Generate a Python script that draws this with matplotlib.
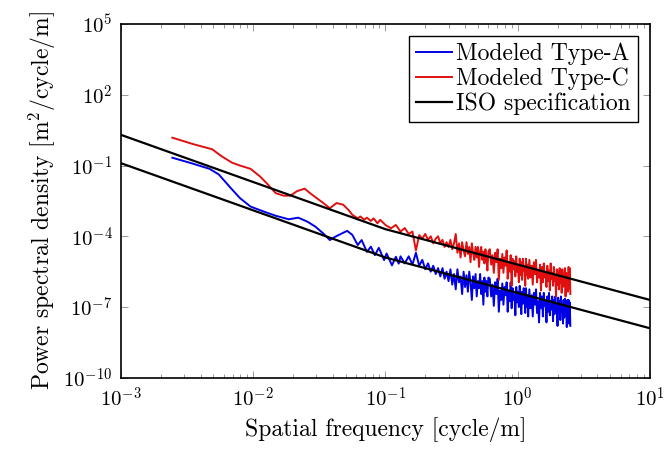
import numpy as np
import matplotlib
matplotlib.use('Agg')
import matplotlib.pyplot as plt
from matplotlib.ticker import FuncFormatter, LogLocator, NullLocator

plt.rcParams['mathtext.fontset'] = 'cm'
plt.rcParams['font.family'] = 'cmr10'
plt.rcParams['axes.unicode_minus'] = False

# ISO specification lines (break at 0.1 cycle/m)
iso_freq = [1e-3, 0.1, 10.0]
iso_a = [1.26e-1, 1.26e-5, 1.26e-8]
iso_c = [2.0, 2.0e-4, 2.0e-7]

# low-frequency part of the modeled spectra (cycle/m), PSD given as log10 values
freq_lo_a = [0.00245, 0.00331, 0.00468, 0.00550, 0.00676, 0.00794, 0.00955, 0.0120,
             0.0148, 0.0186, 0.0219, 0.0257, 0.0295, 0.0339, 0.0380, 0.0417, 0.0468,
             0.0513, 0.0562, 0.0617, 0.0661, 0.0724, 0.0776, 0.0832, 0.0891, 0.0977,
             0.102, 0.112, 0.120, 0.126]
psd_lo_a = [-0.67, -0.88, -1.14, -1.38, -1.95, -2.38, -2.74, -2.95, -3.13, -3.28,
            -3.21, -3.38, -3.59, -3.88, -4.16, -4.02, -3.88, -3.77, -3.94, -4.37,
            -4.16, -4.66, -4.44, -4.80, -4.49, -5.01, -4.73, -5.23, -4.87, -5.16]

freq_lo_c = [0.00245, 0.00355, 0.00490, 0.00575, 0.00692, 0.00794, 0.00955, 0.0112,
             0.0126, 0.0148, 0.0170, 0.0191, 0.0214, 0.0245, 0.0269, 0.0302, 0.0339,
             0.0380, 0.0427, 0.0479, 0.0525, 0.0562, 0.0617, 0.0646, 0.0692, 0.0724,
             0.0776, 0.0813, 0.0871, 0.0912, 0.100, 0.110, 0.120]
psd_lo_c = [0.18, -0.10, -0.31, -0.60, -0.88, -1.00, -1.14, -1.45, -1.74, -2.17,
            -2.28, -2.28, -2.09, -1.98, -2.17, -2.38, -2.59, -2.81, -2.59, -2.66,
            -2.88, -3.09, -3.24, -3.16, -3.30, -3.21, -3.35, -3.24, -3.45, -3.30,
            -3.52, -3.66, -3.52]

# noisy high-frequency part, same frequency grid for both roads
freq_hi = [0.13, 0.14, 0.15, 0.16, 0.17, 0.18, 0.19, 0.20, 0.21, 0.22, 0.23, 0.24,
           0.25, 0.26, 0.27, 0.28, 0.29, 0.30,
           0.31, 0.32, 0.33, 0.34, 0.35, 0.36, 0.37, 0.38, 0.39, 0.40, 0.41, 0.42,
           0.43, 0.44, 0.45, 0.46, 0.47, 0.48, 0.49, 0.50, 0.51, 0.52, 0.53, 0.54,
           0.55, 0.56, 0.57, 0.58, 0.59, 0.60,
           0.615, 0.63, 0.645, 0.66, 0.675, 0.69, 0.705, 0.72, 0.735, 0.75, 0.765,
           0.78, 0.795, 0.81, 0.825, 0.84, 0.855, 0.87, 0.885, 0.90, 0.915, 0.93,
           0.945, 0.96, 0.975, 0.99, 1.005, 1.02, 1.035, 1.05, 1.065, 1.08, 1.095,
           1.11, 1.125, 1.14, 1.155, 1.17, 1.185, 1.20,
           1.225, 1.25, 1.275, 1.30, 1.325, 1.35, 1.375, 1.40, 1.425, 1.45, 1.475,
           1.50, 1.525, 1.55, 1.575, 1.60, 1.625, 1.65, 1.675, 1.70, 1.725, 1.75,
           1.775, 1.80, 1.825, 1.85, 1.875, 1.90, 1.925, 1.95, 1.975, 2.00, 2.025,
           2.05, 2.075, 2.10, 2.125, 2.15, 2.175, 2.20, 2.225, 2.25, 2.275, 2.30,
           2.325, 2.35, 2.375, 2.40, 2.425, 2.45, 2.475, 2.50]
psd_hi_a = [-4.85, -5.15, -4.85, -5.20, -4.70, -5.25, -5.00, -5.40, -5.15, -5.50,
            -5.25, -5.60, -5.35, -5.70, -5.35, -5.80, -5.50, -5.90,
            -5.40, -6.05, -5.60, -6.25, -5.40, -5.95, -5.70, -6.45, -5.50, -6.15,
            -5.65, -6.35, -5.50, -5.95, -6.70, -5.70, -6.20, -5.60, -6.55, -5.90,
            -6.20, -5.60, -6.45, -5.90, -6.90, -5.75, -6.35, -5.90, -6.55, -5.75,
            -5.80, -6.55, -6.05, -6.95, -5.95, -6.45, -5.80, -7.20, -6.30, -6.70,
            -6.00, -6.90, -6.15, -6.50, -5.95, -7.20, -6.35, -6.75, -5.95, -7.05,
            -6.20, -6.70, -6.45, -7.35, -6.15, -6.80, -6.35, -7.00, -6.10, -6.65,
            -7.30, -6.35, -6.85, -6.20, -6.65, -7.25, -6.20, -7.00, -6.50, -7.40,
            -6.25, -7.05, -6.50, -7.40, -6.40, -6.90, -6.25, -7.25, -6.75, -7.65,
            -6.40, -7.05, -6.55, -7.40, -6.40, -6.95, -6.75, -7.65, -6.55, -7.20,
            -6.40, -7.35, -6.75, -7.10, -6.55, -7.60, -6.70, -7.30, -6.55, -7.05,
            -6.90, -7.80, -6.60, -7.25, -6.75, -7.55, -6.55, -7.20, -7.00, -7.70,
            -6.70, -7.45, -6.65, -7.30, -6.95, -7.85, -6.70, -7.40, -6.70, -7.70,
            -6.80, -7.80]
psd_hi_c = [-3.80, -3.65, -3.90, -3.80, -4.60, -3.95, -4.10, -3.90, -4.15, -4.00,
            -4.30, -4.10, -4.00, -4.30, -4.15, -4.45, -4.25, -4.45,
            -4.15, -4.55, -4.30, -3.90, -4.70, -4.30, -4.90, -4.25, -4.60, -4.85,
            -4.25, -4.75, -4.45, -5.10, -4.30, -4.70, -5.00, -4.45, -4.90, -4.45,
            -5.30, -4.65, -4.45, -5.00, -4.65, -5.15, -4.55, -4.90, -5.45, -4.65,
            -4.55, -5.20, -4.80, -5.55, -4.70, -5.10, -4.55, -5.85, -4.95, -5.35,
            -4.75, -5.55, -4.90, -5.25, -4.60, -5.80, -5.10, -5.50, -4.80, -6.10,
            -4.95, -5.40, -5.05, -5.70, -4.85, -5.50, -5.25, -5.95, -4.95, -5.65,
            -5.10, -5.85, -4.95, -5.45, -5.25, -6.10, -4.95, -5.65, -5.20, -5.80,
            -5.00, -5.75, -5.25, -6.05, -5.10, -5.60, -5.00, -5.95, -5.45, -5.75,
            -5.20, -6.30, -5.30, -5.95, -5.15, -5.75, -5.55, -6.15, -5.25, -5.90,
            -5.45, -6.30, -5.15, -5.80, -5.55, -6.10, -5.30, -5.90, -5.75, -6.55,
            -5.40, -6.05, -5.50, -6.25, -5.35, -5.95, -5.70, -6.40, -5.40, -6.15,
            -5.60, -6.10, -5.35, -6.55, -5.55, -6.05, -5.70, -6.35, -5.30, -6.20,
            -5.35, -6.45]

freq_a = freq_lo_a + freq_hi
psd_a = 10.0 ** np.array(psd_lo_a + psd_hi_a)
freq_c = freq_lo_c + freq_hi
psd_c = 10.0 ** np.array(psd_lo_c + psd_hi_c)

fig = plt.figure(figsize=(6.68, 4.53), dpi=100)
ax = fig.add_axes([0.181, 0.166, 0.792, 0.781])

ax.plot(freq_a, psd_a, color='#0000e6', lw=1.4, label='Modeled Type-A')
ax.plot(freq_c, psd_c, color='#e01010', lw=1.4, label='Modeled Type-C')
ax.plot(iso_freq, iso_a, color='black', lw=1.6, label='ISO specification')
ax.plot(iso_freq, iso_c, color='black', lw=1.6)

ax.set_xscale('log')
ax.set_yscale('log')
ax.set_xlim(1e-3, 10)
ax.set_ylim(1e-10, 1e5)

ax.set_yticks([1e-10, 1e-7, 1e-4, 1e-1, 1e2, 1e5])
ax.yaxis.set_minor_locator(NullLocator())
ax.xaxis.set_major_locator(LogLocator(base=10, numticks=10))
ax.xaxis.set_minor_locator(LogLocator(base=10, subs=np.arange(2, 10), numticks=20))
fmt = FuncFormatter(lambda v, pos: r'$10^{%d}$' % int(round(np.log10(v))))
ax.xaxis.set_major_formatter(fmt)
ax.yaxis.set_major_formatter(fmt)
ax.tick_params(which='both', direction='in', top=True, right=True, labelsize=15)
ax.tick_params(which='major', length=5, width=0.6, color='#888888')
ax.tick_params(which='minor', length=3, width=0.6, color='#888888')
ax.tick_params(axis='x', pad=6)
ax.tick_params(axis='y', pad=6)
for s in ax.spines.values():
    s.set_linewidth(1.2)

ax.set_xlabel('Spatial frequency [cycle/m]', fontsize=17, labelpad=5)
ax.set_ylabel('Power spectral density [m$^2$/cycle/m]', fontsize=17, labelpad=4)

leg = ax.legend(loc='upper right', fontsize=17, fancybox=False, framealpha=1,
                edgecolor='black', handlelength=1.5, handletextpad=0.2,
                borderpad=0.3, labelspacing=0.1, borderaxespad=0.5)
leg.get_frame().set_linewidth(1.0)

fig.savefig('out.png', dpi=100)
